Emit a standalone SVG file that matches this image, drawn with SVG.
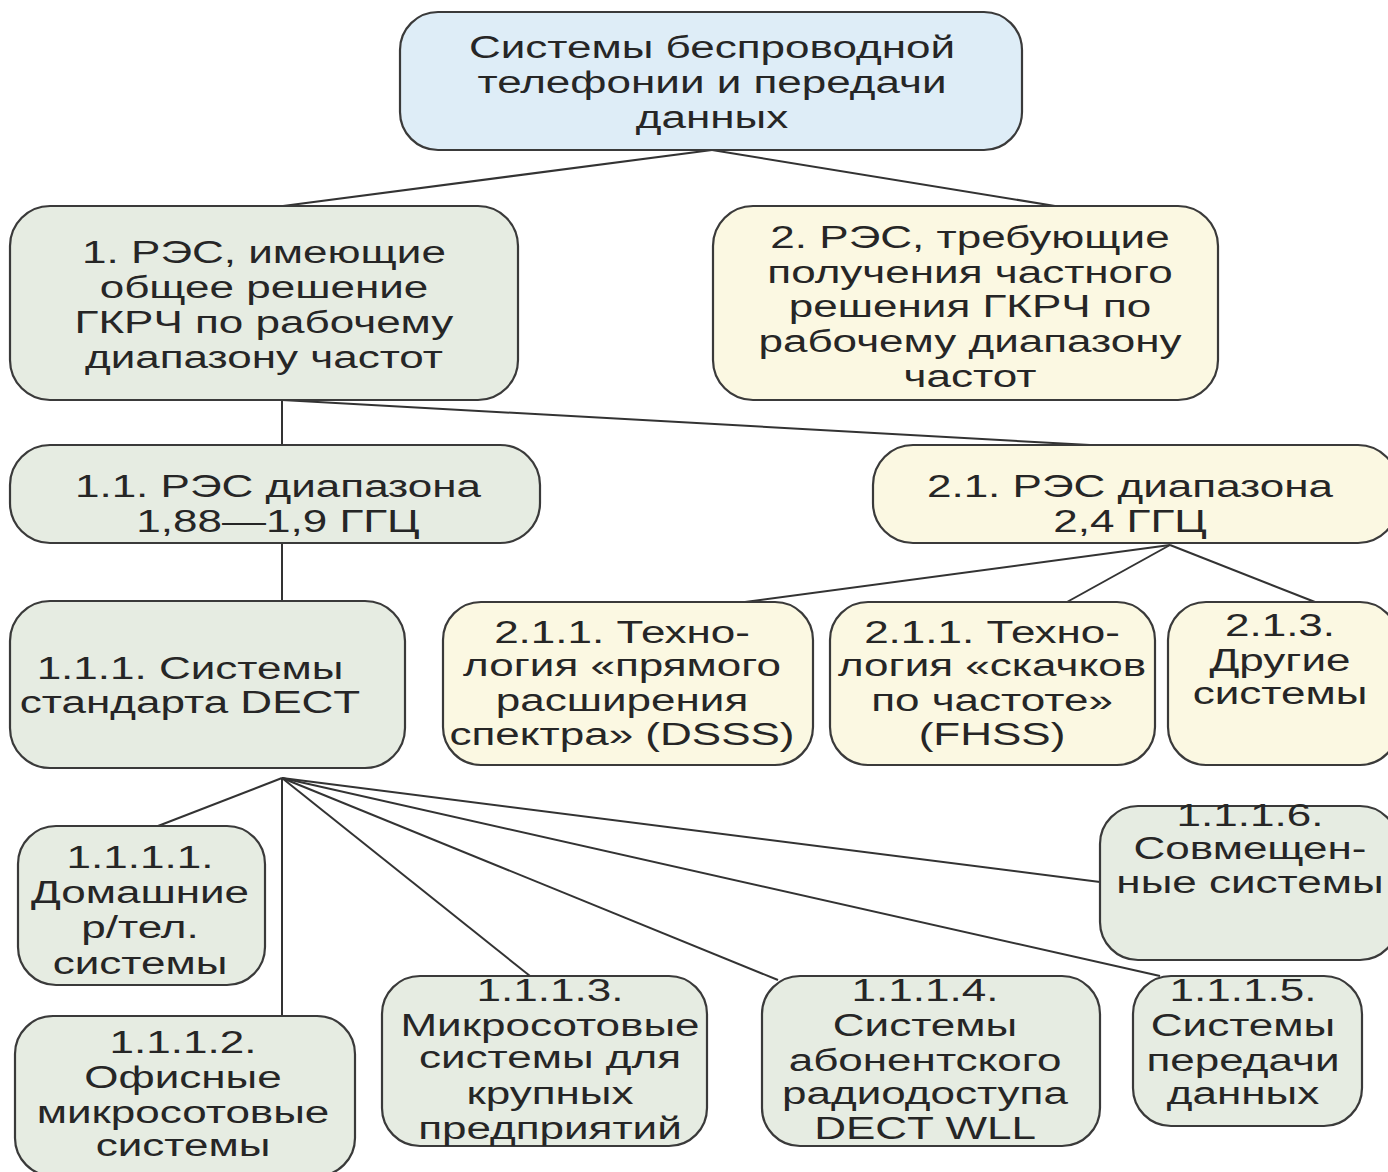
<svg xmlns="http://www.w3.org/2000/svg" width="1388" height="1172" viewBox="0 0 1388 1172">
<style>
.n rect{stroke:#3a3a3a;stroke-width:2.2}
.b rect{fill:#deedf7}
.g rect{fill:#e6ece2}
.y rect{fill:#fbf8e2}
text{font-family:"Liberation Sans",Arial,sans-serif;font-size:31px;fill:#262626;text-anchor:middle}
#edges line{stroke:#333;stroke-width:2}
</style>
<rect width="1388" height="1172" fill="#ffffff"/>
<g id="edges">
<line x1="712" y1="150" x2="283" y2="206"/>
<line x1="712" y1="150" x2="1055" y2="206"/>
<line x1="282" y1="400" x2="282" y2="445"/>
<line x1="282" y1="400" x2="1090" y2="445"/>
<line x1="282" y1="543" x2="282" y2="601"/>
<line x1="1170" y1="545" x2="745" y2="602"/>
<line x1="1170" y1="545" x2="1067" y2="602"/>
<line x1="1170" y1="545" x2="1315" y2="602"/>
<line x1="282" y1="778" x2="158" y2="826"/>
<line x1="282" y1="778" x2="282" y2="1016"/>
<line x1="282" y1="778" x2="530" y2="976"/>
<line x1="282" y1="778" x2="778" y2="980"/>
<line x1="282" y1="778" x2="1160" y2="976"/>
<line x1="282" y1="778" x2="1100" y2="882"/>
</g>
<g id="n0" class="n b"><rect x="400" y="12" width="622" height="138" rx="38"/>
<text transform="translate(712,0) scale(1.42,1)"><tspan x="0" y="58">Системы беспроводной</tspan><tspan x="0" y="93">телефонии и передачи</tspan><tspan x="0" y="128">данных</tspan></text></g>
<g id="n1" class="n g"><rect x="10" y="206" width="508" height="194" rx="40"/>
<text transform="translate(264,0) scale(1.42,1)"><tspan x="0" y="263">1. РЭС, имеющие</tspan><tspan x="0" y="298">общее решение</tspan><tspan x="0" y="333">ГКРЧ по рабочему</tspan><tspan x="0" y="368">диапазону частот</tspan></text></g>
<g id="n2" class="n y"><rect x="713" y="206" width="505" height="194" rx="40"/>
<text transform="translate(970,0) scale(1.42,1)"><tspan x="0" y="248">2. РЭС, требующие</tspan><tspan x="0" y="283">получения частного</tspan><tspan x="0" y="317">решения ГКРЧ по</tspan><tspan x="0" y="352">рабочему диапазону</tspan><tspan x="0" y="387">частот</tspan></text></g>
<g id="n11" class="n g"><rect x="10" y="445" width="530" height="98" rx="40"/>
<text transform="translate(278,0) scale(1.42,1)"><tspan x="0" y="497">1.1. РЭС диапазона</tspan><tspan x="0" y="532">1,88—1,9 ГГЦ</tspan></text></g>
<g id="n21" class="n y"><rect x="873" y="445" width="525" height="98" rx="40"/>
<text transform="translate(1130,0) scale(1.42,1)"><tspan x="0" y="497">2.1. РЭС диапазона</tspan><tspan x="0" y="532">2,4 ГГЦ</tspan></text></g>
<g id="n111" class="n g"><rect x="10" y="601" width="395" height="167" rx="40"/>
<text transform="translate(190,0) scale(1.42,1)"><tspan x="0" y="679">1.1.1. Системы</tspan><tspan x="0" y="713">стандарта DECT</tspan></text></g>
<g id="n211a" class="n y"><rect x="443" y="602" width="370" height="163" rx="38"/>
<text transform="translate(622,0) scale(1.42,1)"><tspan x="0" y="643">2.1.1. Техно-</tspan><tspan x="0" y="676">логия «прямого</tspan><tspan x="0" y="711">расширения</tspan><tspan x="0" y="745">спектра» (DSSS)</tspan></text></g>
<g id="n211b" class="n y"><rect x="830" y="602" width="325" height="163" rx="38"/>
<text transform="translate(992,0) scale(1.42,1)"><tspan x="0" y="643">2.1.1. Техно-</tspan><tspan x="0" y="676">логия «скачков</tspan><tspan x="0" y="711">по частоте»</tspan><tspan x="0" y="745">(FHSS)</tspan></text></g>
<g id="n213" class="n y"><rect x="1168" y="602" width="230" height="163" rx="38"/>
<text transform="translate(1280,0) scale(1.42,1)"><tspan x="0" y="636">2.1.3.</tspan><tspan x="0" y="671">Другие</tspan><tspan x="0" y="704">системы</tspan></text></g>
<g id="n1116" class="n g"><rect x="1100" y="806" width="298" height="154" rx="38"/>
<text transform="translate(1250,0) scale(1.42,1)"><tspan x="0" y="826">1.1.1.6.</tspan><tspan x="0" y="859">Совмещен-</tspan><tspan x="0" y="893">ные системы</tspan></text></g>
<g id="n1111" class="n g"><rect x="18" y="826" width="247" height="159" rx="38"/>
<text transform="translate(140,0) scale(1.42,1)"><tspan x="0" y="868">1.1.1.1.</tspan><tspan x="0" y="903">Домашние</tspan><tspan x="0" y="938">р/тел.</tspan><tspan x="0" y="974">системы</tspan></text></g>
<g id="n1112" class="n g"><rect x="15" y="1016" width="340" height="160" rx="38"/>
<text transform="translate(183,0) scale(1.42,1)"><tspan x="0" y="1053">1.1.1.2.</tspan><tspan x="0" y="1088">Офисные</tspan><tspan x="0" y="1123">микросотовые</tspan><tspan x="0" y="1156">системы</tspan></text></g>
<g id="n1113" class="n g"><rect x="382" y="976" width="325" height="170" rx="38"/>
<text transform="translate(550,0) scale(1.42,1)"><tspan x="0" y="1001">1.1.1.3.</tspan><tspan x="0" y="1036">Микросотовые</tspan><tspan x="0" y="1068">системы для</tspan><tspan x="0" y="1104">крупных</tspan><tspan x="0" y="1139">предприятий</tspan></text></g>
<g id="n1114" class="n g"><rect x="762" y="976" width="338" height="170" rx="38"/>
<text transform="translate(925,0) scale(1.42,1)"><tspan x="0" y="1001">1.1.1.4.</tspan><tspan x="0" y="1036">Системы</tspan><tspan x="0" y="1071">абонентского</tspan><tspan x="0" y="1104">радиодоступа</tspan><tspan x="0" y="1139">DECT WLL</tspan></text></g>
<g id="n1115" class="n g"><rect x="1133" y="976" width="229" height="150" rx="38"/>
<text transform="translate(1243,0) scale(1.42,1)"><tspan x="0" y="1001">1.1.1.5.</tspan><tspan x="0" y="1036">Системы</tspan><tspan x="0" y="1071">передачи</tspan><tspan x="0" y="1104">данных</tspan></text></g>
</svg>
